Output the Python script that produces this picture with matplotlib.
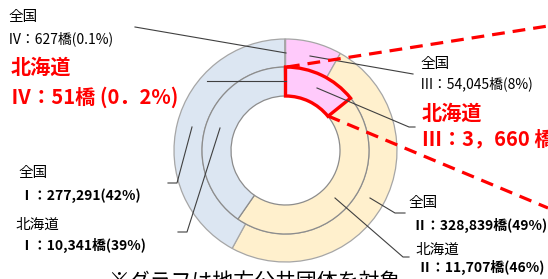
import matplotlib.pyplot as plt

plt.rcParams['font.family'] = ['Noto Sans CJK JP', 'DejaVu Sans']

W, H = 548, 279

# 全国 (outer ring) and 北海道 (inner ring); order clockwise from 12 o'clock
categories = ['Ⅲ', 'Ⅱ', 'Ⅰ', 'Ⅳ']
zenkoku = [54045, 328839, 277291, 627]
hokkaido = [3660, 11707, 10341, 51]
colors = ['#ffcafb', '#fff0cd', '#dce6f2', '#ffcafb']

# labels: (text, x, y_from_top, size, color, weight)
labels = [
    ('全国', 8, 16.5, 10.5, 'black', 'normal'),
    ('Ⅳ：627橋(0.1%)', 8, 38.5, 10, 'black', 'normal'),
    ('北海道', 11, 67.5, 14.5, '#ff0000', 'bold'),
    ('Ⅳ：51橋 (0．2%)', 11, 97, 14.5, '#ff0000', 'bold'),
    ('全国', 420, 64, 10.5, 'black', 'normal'),
    ('Ⅲ：54,045橋(8%)', 420, 83.5, 10, 'black', 'normal'),
    ('北海道', 422, 113, 14.5, '#ff0000', 'bold'),
    ('Ⅲ：3，660 橋', 422, 139, 14.5, '#ff0000', 'bold'),
    ('全国', 18, 172.5, 10.5, 'black', 'normal'),
    ('Ⅰ：277,291(42%)', 19, 195.5, 10, 'black', 'bold'),
    ('北海道', 15, 224.5, 10.5, 'black', 'normal'),
    ('Ⅰ：10,341橋(39%)', 19, 245.5, 10, 'black', 'bold'),
    ('全国', 408, 202.5, 10.5, 'black', 'normal'),
    ('Ⅱ：328,839橋(49%)', 412, 225.5, 10, 'black', 'bold'),
    ('北海道', 415, 249.5, 10.5, 'black', 'normal'),
    ('Ⅱ：11,707橋(46%)', 417, 267.5, 10, 'black', 'bold'),
]

# leader lines in pixel coords (from top)
leaders = [
    [(135, 27), (286, 53)],
    [(207, 81), (286, 81)],
    [(310, 56), (413, 74)],
    [(317, 88), (409, 127), (415, 127)],
    [(370, 198), (395, 213), (405, 213)],
    [(335, 198), (403, 257), (409, 257)],
    [(192, 127), (177, 183), (168, 183)],
    [(220, 128), (187, 232), (178, 232)],
]
dashes = [
    [(287, 67), (548, 26)],
    [(328, 116), (548, 208)],
]

fig = plt.figure(figsize=(W / 100, H / 100), dpi=100)
ax = fig.add_axes([0, 0, 1, 1])
ax.set_xlim(0, W)
ax.set_ylim(0, H)
ax.set_aspect('equal')
ax.axis('off')

cx, cy = 285.5, H - 150.5
r_out, r_mid, r_in = 111.5, 83.5, 54.5

outer, _ = ax.pie(zenkoku, radius=r_out, center=(cx, cy), colors=colors,
                  startangle=90, counterclock=False,
                  wedgeprops=dict(width=r_out - r_mid, edgecolor='#a6a6a6',
                                  linewidth=0.9))
inner, _ = ax.pie(hokkaido, radius=r_mid, center=(cx, cy), colors=colors,
                  startangle=90, counterclock=False,
                  wedgeprops=dict(width=r_mid - r_in, edgecolor='#8c8c8c',
                                  linewidth=0.9))
inner[0].set_edgecolor('#ff0000')
inner[0].set_linewidth(2.4)
inner[0].set_zorder(5)
ax.set_xlim(0, W)
ax.set_ylim(0, H)

for pts in leaders:
    xs = [p[0] for p in pts]
    ys = [H - p[1] for p in pts]
    ax.plot(xs, ys, color='#404040', lw=0.8, zorder=6)

for pts in dashes:
    xs = [p[0] for p in pts]
    ys = [H - p[1] for p in pts]
    ax.plot(xs, ys, color='#ff0000', lw=2.3, ls=(0, (4, 2.5)), zorder=7,
            solid_capstyle='butt', dash_capstyle='butt')

for txt, x, y, size, color, weight in labels:
    ax.text(x, H - y, txt, fontsize=size, color=color, fontweight=weight,
            ha='left', va='center', zorder=8)

ax.text(108, H - 271, '※グラフは地方公共団体を対象', fontsize=15,
        ha='left', va='top', color='black')

fig.savefig('out.png', dpi=100)
